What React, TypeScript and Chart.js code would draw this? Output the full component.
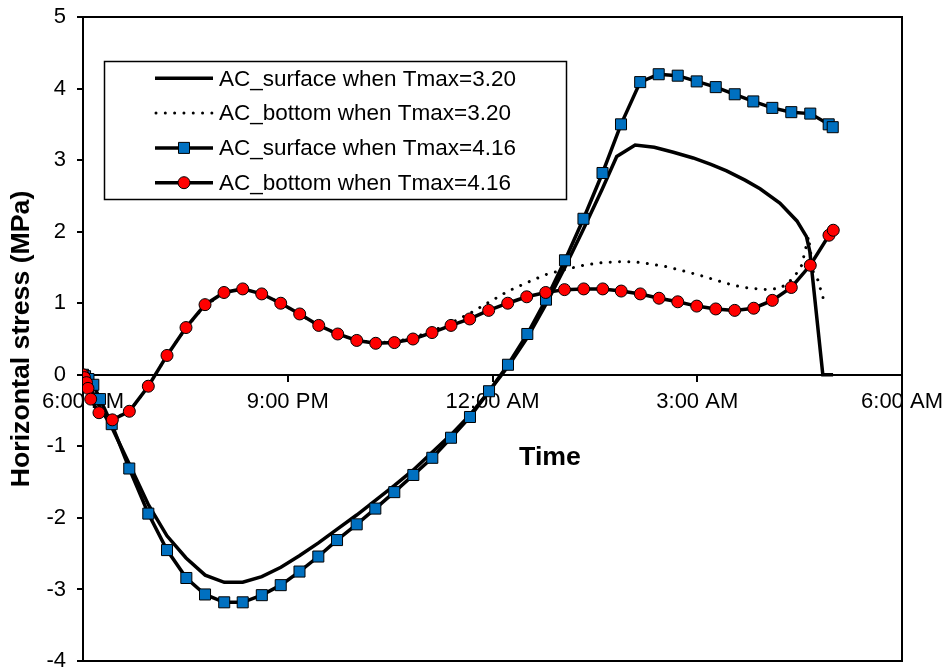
import React, { useEffect, useRef } from 'react';
import { Chart, registerables } from 'chart.js';

Chart.register(...registerables);

// ---- text ----
const X_TICK_LABELS = ['6:00 PM', '9:00 PM', '12:00 AM', '3:00 AM', '6:00 AM'];
const X_TITLE = 'Time';
const Y_TITLE = 'Horizontal stress (MPa)';
const SERIES_LABELS = [
  'AC_surface when Tmax=3.20',
  'AC_bottom when Tmax=3.20',
  'AC_surface when Tmax=4.16',
  'AC_bottom when Tmax=4.16',
];

// ---- data (x in hours after 6:00 PM, y in MPa) ----
const SURF_320_X = [0, 0.05, 0.11, 0.23, 0.43, 0.68, 0.96, 1.23, 1.51, 1.79, 2.07, 2.34, 2.62, 2.9, 3.17, 3.45, 3.72, 4.01, 4.28, 4.56, 4.84, 5.12, 5.39, 5.67, 5.95, 6.23, 6.51, 6.78, 7.06, 7.33, 7.61, 7.82, 8.09, 8.37, 8.65, 8.94, 9.2, 9.43, 9.7, 9.92, 10.21, 10.46, 10.6, 10.65, 10.84, 10.99];
const SURF_320_Y = [0, -0.07, -0.18, -0.42, -0.75, -1.25, -1.82, -2.25, -2.56, -2.8, -2.9, -2.9, -2.82, -2.69, -2.53, -2.35, -2.16, -1.96, -1.76, -1.55, -1.33, -1.08, -0.84, -0.56, -0.23, 0.12, 0.52, 0.98, 1.5, 2.03, 2.6, 3.05, 3.21, 3.18, 3.11, 3.03, 2.94, 2.85, 2.72, 2.6, 2.4, 2.15, 1.93, 1.72, 0, 0];

const BOT_320_X = [0, 0.05, 0.11, 0.23, 0.43, 0.68, 0.96, 1.23, 1.51, 1.79, 2.07, 2.34, 2.62, 2.9, 3.17, 3.45, 3.73, 4.01, 4.29, 4.56, 4.84, 5.11, 5.39, 5.67, 5.96, 6.23, 6.51, 6.78, 7.06, 7.33, 7.62, 7.87, 8.06, 8.31, 8.55, 8.8, 9.04, 9.28, 9.53, 9.77, 10.02, 10.22, 10.41, 10.53, 10.63, 10.7, 10.77, 10.84, 10.97];
const BOT_320_Y = [0, -0.11, -0.33, -0.52, -0.62, -0.51, -0.16, 0.27, 0.66, 0.97, 1.14, 1.19, 1.13, 1.0, 0.85, 0.69, 0.57, 0.48, 0.45, 0.46, 0.52, 0.61, 0.72, 0.86, 1.02, 1.17, 1.29, 1.4, 1.47, 1.53, 1.57, 1.58, 1.58, 1.55, 1.51, 1.45, 1.39, 1.32, 1.25, 1.21, 1.19, 1.21, 1.35, 1.53, 1.93, 1.44, 1.32, 1.08, 1.08];

const SURF_416_X = [0, 0.03, 0.08, 0.151, 0.249, 0.421, 0.678, 0.957, 1.231, 1.514, 1.788, 2.069, 2.34, 2.62, 2.897, 3.172, 3.448, 3.722, 4.01, 4.283, 4.561, 4.84, 5.118, 5.392, 5.67, 5.949, 6.227, 6.51, 6.784, 7.062, 7.333, 7.612, 7.883, 8.164, 8.435, 8.714, 8.992, 9.271, 9.549, 9.821, 10.1, 10.378, 10.656, 10.926, 10.985];
const SURF_416_Y = [0, -0.02, -0.06, -0.14, -0.34, -0.69, -1.31, -1.94, -2.45, -2.84, -3.07, -3.18, -3.18, -3.08, -2.94, -2.75, -2.54, -2.31, -2.09, -1.87, -1.64, -1.4, -1.16, -0.88, -0.59, -0.23, 0.14, 0.57, 1.05, 1.6, 2.18, 2.82, 3.5, 4.09, 4.2, 4.18, 4.1, 4.02, 3.92, 3.82, 3.73, 3.67, 3.65, 3.5, 3.46];

const BOT_416_X = [0, 0.022, 0.051, 0.073, 0.113, 0.234, 0.43, 0.679, 0.957, 1.231, 1.509, 1.788, 2.066, 2.34, 2.618, 2.897, 3.175, 3.454, 3.732, 4.011, 4.289, 4.562, 4.835, 5.114, 5.392, 5.666, 5.944, 6.223, 6.501, 6.78, 7.055, 7.336, 7.615, 7.886, 8.166, 8.44, 8.714, 8.992, 9.271, 9.549, 9.827, 10.1, 10.378, 10.656, 10.93, 10.993];
const BOT_416_Y = [0, -0.04, -0.11, -0.19, -0.34, -0.53, -0.63, -0.51, -0.16, 0.27, 0.66, 0.98, 1.15, 1.2, 1.13, 1.0, 0.85, 0.69, 0.57, 0.48, 0.44, 0.45, 0.5, 0.59, 0.69, 0.78, 0.9, 1.0, 1.09, 1.15, 1.19, 1.2, 1.2, 1.17, 1.13, 1.07, 1.02, 0.96, 0.92, 0.9, 0.93, 1.04, 1.22, 1.53, 1.95, 2.02];

const FONT = "'Liberation Sans', Arial, Helvetica, sans-serif";

const toPoints = (xs: number[], ys: number[]) => xs.map((x, i) => ({ x, y: ys[i] }));

const framePlugin = {
  id: 'frame',
  beforeDatasetsDraw(chart: any) {
    const { ctx, chartArea: a } = chart;
    ctx.save();
    ctx.strokeStyle = '#000';
    ctx.lineWidth = 2;
    ctx.beginPath();
    ctx.moveTo(a.left, a.top);
    ctx.lineTo(a.right, a.top);
    ctx.lineTo(a.right, a.bottom);
    ctx.lineTo(a.left, a.bottom);
    ctx.stroke();
    ctx.restore();
  },
};

const textPlugin = {
  id: 'xTitle',
  afterDraw(chart: any) {
    const { ctx } = chart;
    ctx.save();
    ctx.fillStyle = '#000';
    ctx.font = `bold 26.7px ${FONT}`;
    ctx.textAlign = 'center';
    ctx.textBaseline = 'alphabetic';
    ctx.fillText(X_TITLE, 550, 465);
    ctx.restore();
  },
};

const legendPlugin = {
  id: 'boxLegend',
  afterDraw(chart: any) {
    const { ctx } = chart;
    ctx.save();
    const bx = 104.5, by = 61.5, bw = 462, bh = 138;
    ctx.fillStyle = '#fff';
    ctx.fillRect(bx, by, bw, bh);
    ctx.strokeStyle = '#000';
    ctx.lineWidth = 1.5;
    ctx.strokeRect(bx, by, bw, bh);
    chart.data.datasets.forEach((ds: any, i: number) => {
      const y = 78.3 + i * 34.8;
      ctx.beginPath();
      ctx.setLineDash(ds.borderDash || []);
      ctx.lineCap = ds.borderCapStyle || 'butt';
      ctx.lineWidth = ds.borderWidth;
      ctx.strokeStyle = ds.borderColor;
      const x0 = ds.borderDash ? 156 : 155;
      ctx.moveTo(x0, y);
      ctx.lineTo(213, y);
      ctx.stroke();
      ctx.setLineDash([]);
      const cx = 184;
      if (ds.pointRadius > 0) {
        ctx.fillStyle = ds.pointBackgroundColor;
        ctx.strokeStyle = ds.pointBorderColor;
        ctx.lineWidth = ds.pointBorderWidth;
        ctx.beginPath();
        if (ds.pointStyle === 'rect') {
          const h = Math.SQRT1_2 * ds.pointRadius;
          ctx.rect(cx - h, y - h, 2 * h, 2 * h);
        } else {
          ctx.arc(cx, y, ds.pointRadius, 0, Math.PI * 2);
        }
        ctx.fill();
        ctx.stroke();
      }
      ctx.fillStyle = '#000';
      ctx.font = `22.5px ${FONT}`;
      ctx.textAlign = 'left';
      ctx.textBaseline = 'middle';
      ctx.fillText(ds.label, 219, y + 1);
    });
    ctx.restore();
  },
};

export default function App() {
  const ref = useRef<HTMLCanvasElement>(null);

  useEffect(() => {
    document.body.style.margin = '0';
    Chart.defaults.font.family = FONT;
    Chart.defaults.color = '#000';

    const chart = new Chart(ref.current as HTMLCanvasElement, {
      type: 'line',
      data: {
        datasets: [
          {
            label: SERIES_LABELS[0],
            data: toPoints(SURF_320_X, SURF_320_Y),
            borderColor: '#000',
            borderWidth: 3.5,
            pointRadius: 0,
            order: 3,
          },
          {
            label: SERIES_LABELS[1],
            data: toPoints(BOT_320_X, BOT_320_Y),
            borderColor: '#000',
            borderWidth: 3,
            borderDash: [0.01, 9.3],
            borderCapStyle: 'round',
            pointRadius: 0,
            order: 2,
          },
          {
            label: SERIES_LABELS[2],
            data: toPoints(SURF_416_X, SURF_416_Y),
            borderColor: '#000',
            borderWidth: 3.5,
            pointStyle: 'rect',
            pointRadius: 7.8,
            pointBackgroundColor: '#0070C0',
            pointBorderColor: '#000',
            pointBorderWidth: 1,
            order: 1,
          },
          {
            label: SERIES_LABELS[3],
            data: toPoints(BOT_416_X, BOT_416_Y),
            borderColor: '#000',
            borderWidth: 3.5,
            pointStyle: 'circle',
            pointRadius: 6,
            pointBackgroundColor: '#FF0000',
            pointBorderColor: '#000',
            pointBorderWidth: 1,
            order: 0,
          },
        ] as any,
      },
      options: {
        animation: false,
        responsive: true,
        maintainAspectRatio: false,
        layout: { padding: { left: 0, top: 17, right: 46, bottom: 9 } },
        elements: { line: { tension: 0 } },
        plugins: { legend: { display: false }, tooltip: { enabled: false } },
        scales: {
          x: {
            type: 'linear',
            min: 0,
            max: 12,
            position: { y: 0 } as any,
            ticks: {
              stepSize: 3,
              autoSkip: false,
              maxRotation: 0,
              padding: 7.5,
              color: '#000',
              font: { size: 22 },
              callback: (_v: any, i: number) => X_TICK_LABELS[i],
            },
            grid: { drawOnChartArea: false, drawTicks: true, tickLength: 6, lineWidth: 2, color: '#000' },
            border: { display: true, color: '#000', width: 2 },
            afterFit: (s: any) => {
              s.height = 0;
              s.paddingLeft = 0;
              s.paddingRight = 0;
            },
          },
          y: {
            type: 'linear',
            min: -4,
            max: 5,
            ticks: { stepSize: 1, padding: 11, color: '#000', font: { size: 22 } },
            grid: { drawOnChartArea: false, drawTicks: true, tickLength: 6, lineWidth: 2, color: '#000' },
            border: { display: true, color: '#000', width: 2 },
            title: {
              display: true,
              text: Y_TITLE,
              color: '#000',
              font: { size: 26.7, weight: 'bold' },
              padding: { top: 6, bottom: 0 },
            },
            afterFit: (s: any) => {
              s.width = 83;
              s.paddingTop = 0;
              s.paddingBottom = 0;
            },
          },
        },
      } as any,
      plugins: [framePlugin, textPlugin, legendPlugin],
    });
    return () => chart.destroy();
  }, []);

  return (
    <div style={{ position: 'relative', width: 948, height: 670 }}>
      <canvas ref={ref} />
    </div>
  );
}
